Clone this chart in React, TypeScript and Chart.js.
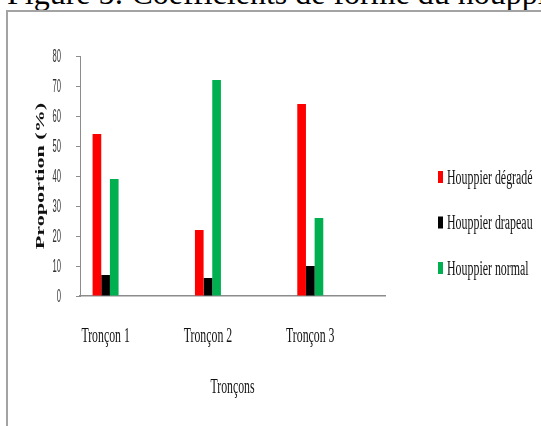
import React, { useEffect, useRef } from "react";
import { Chart, registerables } from "chart.js";

Chart.register(...registerables);

const categories = ["Tronçon 1", "Tronçon 2", "Tronçon 3"];
const seriesNames = ["Houppier dégradé", "Houppier drapeau", "Houppier normal"];
const degrade = [54, 22, 64];
const drapeau = [7, 6, 10];
const normal = [39, 72, 26];
const seriesColors = ["#FF0000", "#000000", "#00B050"];
const yTickValues = [0, 10, 20, 30, 40, 50, 60, 70, 80];
const xTitle = "Tronçons";
const yTitle = "Proportion (%)";
const figureTitle = "Figure 5: Coefficients de forme du houppier";

const textPlugin = {
  id: "stretchedText",
  afterDraw(chart: any) {
    const ctx = chart.ctx as CanvasRenderingContext2D;
    const xs = chart.scales.x;
    const ys = chart.scales.y;

    // y tick labels (narrow)
    ctx.save();
    ctx.fillStyle = "#333333";
    ctx.font = '19px "Liberation Sans"';
    ctx.textAlign = "right";
    ctx.textBaseline = "middle";
    for (const v of yTickValues) {
      const y = ys.getPixelForValue(v);
      ctx.save();
      ctx.translate(61, y + 1);
      ctx.scale(0.4, 1);
      ctx.fillText(String(v), 0, 0);
      ctx.restore();
    }
    ctx.restore();

    // x tick labels
    ctx.save();
    ctx.fillStyle = "#111111";
    ctx.font = '20px "Liberation Serif"';
    ctx.textAlign = "center";
    ctx.textBaseline = "alphabetic";
    categories.forEach((c, i) => {
      const x = xs.getPixelForValue(i);
      ctx.save();
      ctx.translate(x, 342);
      ctx.scale(0.59, 1);
      ctx.fillText(c, 0, 0);
      ctx.restore();
    });
    // x title
    ctx.save();
    ctx.translate((xs.left + xs.right) / 2, 393);
    ctx.scale(0.59, 1);
    ctx.fillText(xTitle, 0, 0);
    ctx.restore();
    ctx.restore();

    // y title
    ctx.save();
    ctx.fillStyle = "#111111";
    ctx.font = 'bold 13px "Liberation Serif"';
    ctx.textAlign = "center";
    ctx.textBaseline = "middle";
    ctx.translate(41, (ys.top + ys.bottom) / 2);
    ctx.rotate(-Math.PI / 2);
    ctx.scale(1.7, 1);
    ctx.fillText(yTitle, 0, 0);
    ctx.restore();

    // legend
    ctx.save();
    ctx.font = '20px "Liberation Serif"';
    ctx.textAlign = "left";
    ctx.textBaseline = "alphabetic";
    chart.data.datasets.forEach((ds: any, i: number) => {
      const cy = 177 + i * 45.5;
      ctx.fillStyle = ds.backgroundColor;
      ctx.fillRect(438, cy - 6, 5, 12);
      ctx.fillStyle = "#111111";
      ctx.save();
      ctx.translate(447, cy + 6.5);
      ctx.scale(0.595, 1);
      ctx.fillText(ds.label, 0, 0);
      ctx.restore();
    });
    ctx.restore();
  },
};

export default function App() {
  const ref = useRef<HTMLCanvasElement | null>(null);

  useEffect(() => {
    if (!ref.current) return;
    const series = [degrade, drapeau, normal];
    const chart = new Chart(ref.current, {
      type: "bar",
      data: {
        datasets: series.map((vals, s) => ({
          label: seriesNames[s],
          data: vals.map((v, i) => ({ x: i, y: v })),
          backgroundColor: seriesColors[s],
          borderWidth: 0,
          categoryPercentage: 0.254,
          barPercentage: 1,
        })),
      },
      options: {
        animation: false,
        responsive: false,
        events: [],
        layout: { padding: { top: 56, right: 156, left: 0, bottom: 0 } },
        plugins: {
          legend: { display: false },
          title: { display: false },
          tooltip: { enabled: false },
        },
        scales: {
          x: {
            type: "linear",
            offset: false,
            min: -0.25,
            max: 2.73,
            afterBuildTicks: (scale: any) => {
              scale.ticks = categories.map((_, i) => ({ value: i }));
            },
            afterFit: (scale: any) => {
              scale.height = 130;
            },
            ticks: { display: false },
            grid: { display: false, offset: false },
            border: { display: true, color: "#8c8c8c", width: 1.5 },
          },
          y: {
            min: 0,
            max: 80,
            ticks: { display: false, stepSize: 10 },
            afterFit: (scale: any) => {
              scale.width = 80;
            },
            grid: {
              display: true,
              drawOnChartArea: false,
              drawTicks: true,
              tickLength: 4,
              color: "#8c8c8c",
            },
            border: { display: true, color: "#8c8c8c", width: 1 },
          },
        },
      },
      plugins: [textPlugin],
    });
    return () => chart.destroy();
  }, []);

  return (
    <div
      style={{
        position: "fixed",
        left: 0,
        top: 0,
        width: 541,
        height: 426,
        overflow: "hidden",
        background: "#ffffff",
      }}
    >
      <div
        style={{
          position: "absolute",
          left: 7,
          top: -25,
          fontFamily: '"Liberation Serif", serif',
          fontSize: 32,
          lineHeight: "normal",
          whiteSpace: "nowrap",
          color: "#000",
        }}
      >
        {figureTitle}
      </div>
      <div
        style={{
          position: "absolute",
          left: 6,
          top: 10,
          width: 700,
          height: 600,
          borderTop: "2px solid #a3a3a3",
          borderLeft: "2px solid #a3a3a3",
        }}
      />
      <canvas
        ref={ref}
        width={541}
        height={426}
        style={{ position: "absolute", left: 0, top: 0, width: 541, height: 426 }}
      />
    </div>
  );
}
